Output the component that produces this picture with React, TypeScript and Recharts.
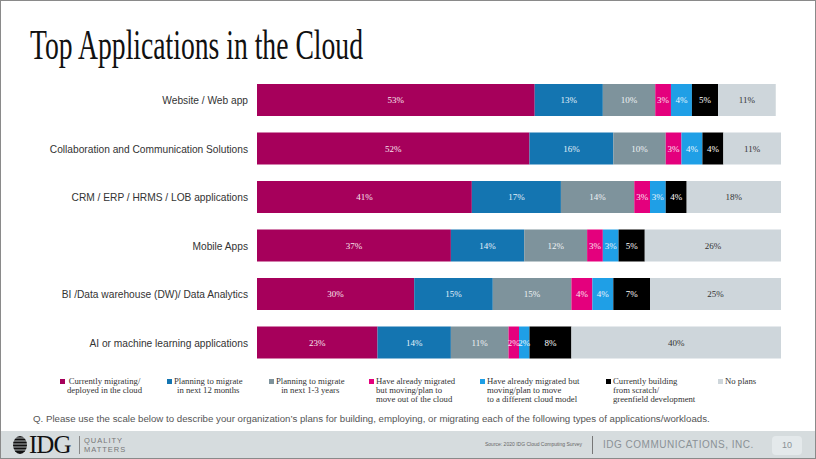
import { BarChart, Bar, XAxis, YAxis, LabelList } from "recharts";

const categories = [
  "Website / Web app",
  "Collaboration and Communication Solutions",
  "CRM / ERP / HRMS / LOB applications",
  "Mobile Apps",
  "BI /Data warehouse (DW)/ Data Analytics",
  "AI or machine learning applications",
];

const currentlyMigrating = [53, 52, 41, 37, 30, 23];
const planning12 = [13, 16, 17, 14, 15, 14];
const planning13 = [10, 10, 14, 12, 15, 11];
const movingOut = [3, 3, 3, 3, 4, 2];
const movingOther = [4, 4, 3, 3, 4, 2];
const building = [5, 4, 4, 5, 7, 8];
const noPlans = [11, 11, 18, 26, 25, 40];

const series = [
  { key: "s1", values: currentlyMigrating, color: "#a6005b", text: "#f8e6ee", label: ["Currently migrating/", "deployed in the cloud"] },
  { key: "s2", values: planning12, color: "#1475b1", text: "#e6f2fa", label: ["Planning to migrate", "in next 12 months"] },
  { key: "s3", values: planning13, color: "#7e939c", text: "#eef2f4", label: ["Planning to migrate", "in next 1-3 years"] },
  { key: "s4", values: movingOut, color: "#e4007d", text: "#fbe3f0", label: ["Have already migrated", "but moving/plan to", "move out of the cloud"] },
  { key: "s5", values: movingOther, color: "#1f9fe6", text: "#e9f6fd", label: ["Have already migrated but", "moving/plan to move", "to a different cloud model"] },
  { key: "s6", values: building, color: "#000000", text: "#ffffff", label: ["Currently building", "from scratch/", "greenfield development"] },
  { key: "s7", values: noPlans, color: "#ced6db", text: "#333333", label: ["No plans"] },
];

const data = categories.map((name, i) => {
  const row: Record<string, string | number> = { name };
  series.forEach((s) => (row[s.key] = s.values[i]));
  return row;
});

// left edge of each legend entry
const legendLeft = [60, 167, 269, 369, 480, 606, 718];

const serif = "'Liberation Serif', 'DejaVu Serif', serif";
const sans = "'Liberation Sans', Arial, sans-serif";

function CategoryTick({ x, y, payload }: any) {
  return (
    <text x={x} y={y} dy={4} textAnchor="end" fill="#333" fontSize={10.2} fontFamily={sans}>
      {payload.value}
    </text>
  );
}

function Globe() {
  return (
    <svg width={18} height={22} style={{ position: "absolute", left: 11, top: 434 }}>
      <ellipse cx={9} cy={11} rx={7} ry={9} fill="#111" />
      {[4, 7, 10, 13, 16].map((yy) => (
        <line key={yy} x1={1} x2={17} y1={yy} y2={yy} stroke="#d6dcde" strokeWidth={0.8} />
      ))}
    </svg>
  );
}

export default function App() {
  return (
    <div
      style={{
        position: "relative",
        width: 816,
        height: 459,
        background: "#fff",
        overflow: "hidden",
        fontFamily: sans,
      }}
    >
      <style>{`body{margin:0}`}</style>
      <svg width={816} height={80} style={{ position: "absolute", left: 0, top: 0 }}>
        <text
          x={30}
          y={59}
          fontFamily={serif}
          fontSize={42}
          fill="#111"
          textLength={333}
          lengthAdjust="spacingAndGlyphs"
        >
          Top Applications in the Cloud
        </text>
      </svg>

      <div style={{ position: "absolute", left: 0, top: 0 }}>
        <BarChart
          width={816}
          height={459}
          data={data}
          layout="vertical"
          margin={{ top: 76, right: 35, bottom: 92, left: 0 }}
          barSize={32}
        >
          <XAxis type="number" domain={[0, 100]} hide />
          <YAxis
            type="category"
            dataKey="name"
            width={257}
            axisLine={false}
            tickLine={false}
            tickSize={0}
            tickMargin={9}
            tick={<CategoryTick />}
            interval={0}
          />
          {series.map((s) => (
            <Bar key={s.key} dataKey={s.key} stackId="a" fill={s.color} isAnimationActive={false}>
              <LabelList
                dataKey={s.key}
                position="center"
                formatter={(v: any) => `${v}%`}
                fill={s.text}
                fontSize={9}
                fontFamily={serif}
              />
            </Bar>
          ))}
        </BarChart>
      </div>

      {series.map((s, i) => (
        <div
          key={s.key}
          style={{
            position: "absolute",
            left: legendLeft[i],
            top: 377,
            display: "flex",
            fontFamily: serif,
            fontSize: 8.7,
            lineHeight: "9px",
            color: "#333",
          }}
        >
          <span
            style={{
              display: "inline-block",
              width: 5,
              height: 5,
              marginTop: 2,
              marginRight: 2,
              background: s.color,
            }}
          />
          <div style={{ textAlign: i < 3 ? "center" : "left" }}>
            {s.label.map((l) => (
              <div key={l} style={{ whiteSpace: "nowrap" }}>
                {l}
              </div>
            ))}
          </div>
        </div>
      ))}

      <div
        style={{
          position: "absolute",
          left: 33,
          top: 413,
          fontSize: 9.7,
          color: "#555",
          whiteSpace: "nowrap",
        }}
      >
        Q. Please use the scale below to describe your organization’s plans for building, employing, or migrating each of the following types of applications/workloads.
      </div>

      <div
        style={{
          position: "absolute",
          left: 0,
          top: 431,
          width: 816,
          height: 28,
          background: "#d6dcde",
        }}
      />
      <Globe />
      <div
        style={{
          position: "absolute",
          left: 29,
          top: 431,
          fontFamily: serif,
          fontSize: 25,
          color: "#111",
          letterSpacing: -1,
        }}
      >
        IDG
      </div>
      <div style={{ position: "absolute", left: 79, top: 436, width: 1, height: 18, background: "#888" }} />
      <div
        style={{
          position: "absolute",
          left: 84,
          top: 436,
          fontSize: 7.5,
          lineHeight: "9px",
          color: "#777",
          letterSpacing: 1,
        }}
      >
        <div>QUALITY</div>
        <div>MATTERS</div>
      </div>
      <div
        style={{
          position: "absolute",
          left: 485,
          top: 441,
          fontSize: 5,
          color: "#666",
          whiteSpace: "nowrap",
        }}
      >
        Source: 2020 IDG Cloud Computing Survey
      </div>
      <div style={{ position: "absolute", left: 592, top: 436, width: 1, height: 18, background: "#777" }} />
      <div
        style={{
          position: "absolute",
          left: 603,
          top: 439,
          fontSize: 10,
          color: "#8a9196",
          letterSpacing: 0.5,
          whiteSpace: "nowrap",
        }}
      >
        IDG COMMUNICATIONS, INC.
      </div>
      <div
        style={{
          position: "absolute",
          left: 772,
          top: 436,
          width: 30,
          height: 19,
          borderRadius: 4,
          background: "#e4e9eb",
          fontSize: 9,
          color: "#8a9196",
          textAlign: "center",
          lineHeight: "19px",
        }}
      >
        10
      </div>
      <div
        style={{
          position: "absolute",
          left: 0,
          top: 0,
          width: 814,
          height: 457,
          border: "1px solid #8a8a8a",
          pointerEvents: "none",
        }}
      />
    </div>
  );
}
